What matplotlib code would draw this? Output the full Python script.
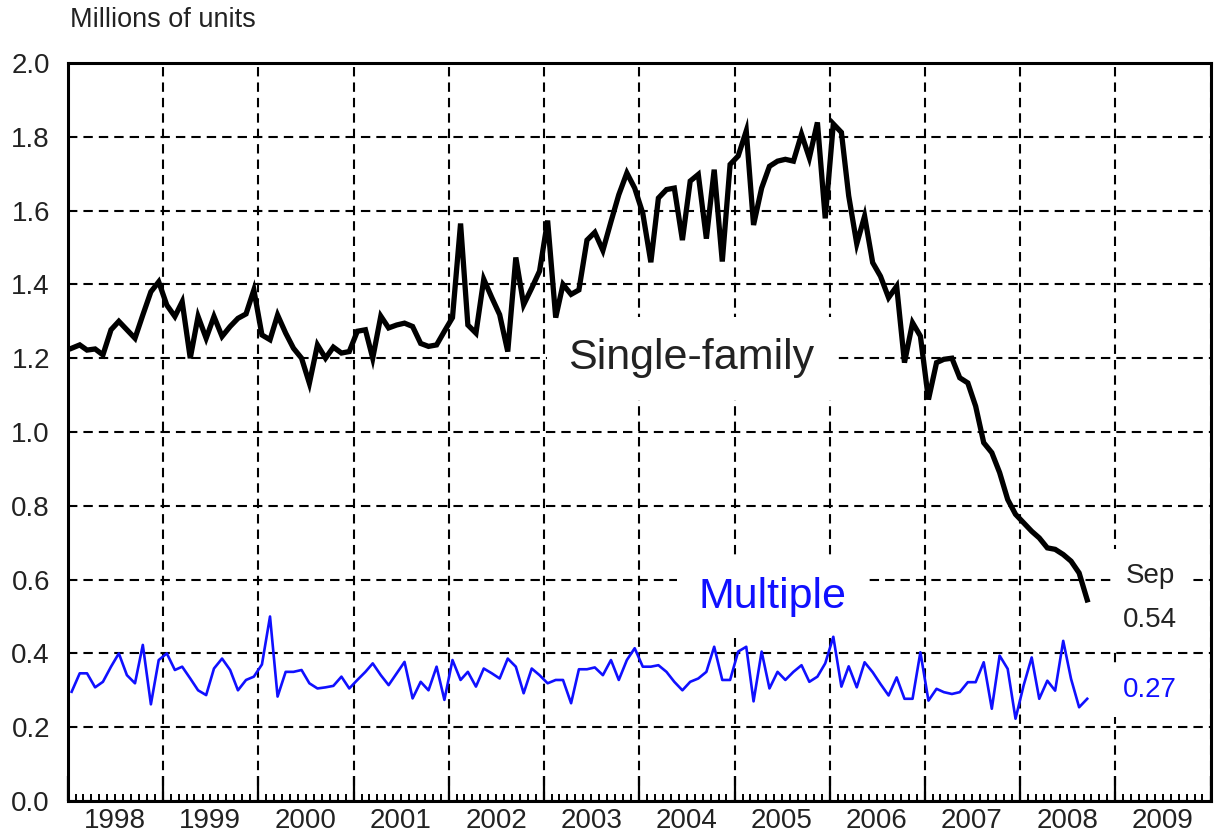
import matplotlib
matplotlib.use("Agg")
import matplotlib.pyplot as plt
import matplotlib.dates as mdates
import matplotlib.ticker as mticker
import pandas as pd

# --- data: monthly starts, Jan 1998 - Sep 2008, millions of units (SAAR) ---
single_family = [
    1.227, 1.236, 1.222, 1.225, 1.209, 1.277, 1.300, 1.277, 1.254, 1.317, 1.380, 1.407,
    1.344, 1.313, 1.353, 1.200, 1.313, 1.254, 1.313, 1.259, 1.286, 1.308, 1.320, 1.385,
    1.263, 1.250, 1.317, 1.268, 1.227, 1.200, 1.132, 1.236, 1.200, 1.230, 1.214, 1.218,
    1.273, 1.277, 1.200, 1.314, 1.282, 1.290, 1.295, 1.286, 1.240, 1.232, 1.236, 1.273,
    1.310, 1.565, 1.290, 1.268, 1.414, 1.364, 1.318, 1.218, 1.473, 1.345, 1.390, 1.436,
    1.573, 1.310, 1.400, 1.373, 1.385, 1.520, 1.541, 1.492, 1.570, 1.643, 1.702, 1.661,
    1.593, 1.460, 1.634, 1.657, 1.661, 1.520, 1.680, 1.698, 1.524, 1.711, 1.462, 1.725,
    1.748, 1.816, 1.561, 1.661, 1.720, 1.734, 1.739, 1.734, 1.807, 1.743, 1.839, 1.579,
    1.835, 1.812, 1.640, 1.510, 1.585, 1.459, 1.422, 1.364, 1.395, 1.188, 1.296, 1.260,
    1.088, 1.188, 1.197, 1.200, 1.147, 1.133, 1.070, 0.971, 0.944, 0.890, 0.817, 0.777,
    0.754, 0.731, 0.713, 0.686, 0.682, 0.668, 0.650, 0.618, 0.545,
]
multiple = [
    0.296, 0.346, 0.346, 0.308, 0.323, 0.364, 0.400, 0.341, 0.319, 0.423, 0.262, 0.382,
    0.400, 0.355, 0.364, 0.332, 0.300, 0.287, 0.359, 0.386, 0.355, 0.300, 0.328, 0.337,
    0.370, 0.500, 0.283, 0.350, 0.350, 0.355, 0.319, 0.305, 0.308, 0.312, 0.337, 0.305,
    0.328, 0.350, 0.373, 0.341, 0.314, 0.346, 0.377, 0.278, 0.323, 0.300, 0.364, 0.274,
    0.382, 0.328, 0.350, 0.310, 0.359, 0.346, 0.332, 0.386, 0.364, 0.292, 0.359, 0.341,
    0.319, 0.328, 0.328, 0.265, 0.357, 0.357, 0.362, 0.341, 0.382, 0.328, 0.382, 0.414,
    0.364, 0.364, 0.368, 0.350, 0.323, 0.300, 0.323, 0.332, 0.350, 0.418, 0.328, 0.328,
    0.405, 0.418, 0.270, 0.405, 0.305, 0.350, 0.328, 0.350, 0.368, 0.323, 0.337, 0.373,
    0.445, 0.310, 0.365, 0.308, 0.376, 0.349, 0.317, 0.286, 0.335, 0.277, 0.277, 0.403,
    0.272, 0.304, 0.295, 0.290, 0.295, 0.322, 0.322, 0.376, 0.250, 0.394, 0.358, 0.223,
    0.313, 0.389, 0.277, 0.326, 0.299, 0.434, 0.331, 0.254, 0.277,
]
months = pd.date_range("1998-01-01", periods=len(single_family), freq="MS") + pd.Timedelta(days=14)
y_ticks = [0.0, 0.2, 0.4, 0.6, 0.8, 1.0, 1.2, 1.4, 1.6, 1.8, 2.0]

plt.rcParams["font.family"] = ["Liberation Sans", "DejaVu Sans"]
TXT = "#222222"
BLUE = "#1010ff"
box = dict(boxstyle="square,pad=0.5", fc="white", ec="none")

fig = plt.figure(figsize=(12.14, 8.35), dpi=100)
ax = fig.add_axes([68 / 1214, 1 - 801 / 835, (1210.5 - 68) / 1214, (801 - 63) / 835])
ax.set_axisbelow(True)

ax.plot(months, single_family, color="black", lw=3.8, solid_joinstyle="miter", zorder=3)
ax.plot(months, multiple, color=BLUE, lw=1.9, zorder=3)

ax.set_xlim(pd.Timestamp("1998-01-01"), pd.Timestamp("2010-01-01"))
ax.set_ylim(0, 2.0)
ax.set_yticks(y_ticks)
ax.yaxis.set_major_formatter(mticker.FormatStrFormatter("%.1f"))

# year boundaries = major ticks / gridlines, months = minor ticks, labels mid-year
ax.xaxis.set_major_locator(mdates.YearLocator())
ax.xaxis.set_major_formatter(mticker.NullFormatter())
ax.xaxis.set_minor_locator(mdates.MonthLocator(bymonth=range(2, 13)))
ax.xaxis.set_minor_formatter(mticker.FuncFormatter(
    lambda v, pos: str(mdates.num2date(v).year) if mdates.num2date(v).month == 7 else ""))

ax.tick_params(axis="x", which="major", direction="in", length=18, width=1.6, labelbottom=False)
ax.tick_params(axis="x", which="minor", direction="in", length=5, width=1.4,
               labelsize=20, labelcolor=TXT, pad=5)
ax.tick_params(axis="y", length=0, labelsize=20, labelcolor=TXT, pad=13)

ax.grid(True, which="major", color="black", lw=1.5, linestyle=(0, (4.5, 2.9)))
for s in ax.spines.values():
    s.set_linewidth(2.2)
    s.set_color("black")
    s.set_zorder(4)

ax.text(pd.Timestamp("2004-07-20"), 1.20, "Single-family", fontsize=31, color=TXT,
        ha="center", va="center", bbox=box, zorder=2)
ax.text(pd.Timestamp("2005-05-25"), 0.553, "Multiple", fontsize=31, color=BLUE,
        ha="center", va="center", bbox=box, zorder=2)
ax.text(pd.Timestamp("2009-05-15"), 0.61, "Sep", fontsize=20, color=TXT,
        ha="center", va="center", bbox=box, zorder=2)
ax.text(pd.Timestamp("2009-05-15"), 0.49, "0.54", fontsize=20, color=TXT,
        ha="center", va="center", bbox=box, zorder=2)
ax.text(pd.Timestamp("2009-05-15"), 0.30, "0.27", fontsize=20, color=BLUE,
        ha="center", va="center", bbox=box, zorder=2)

fig.text(70 / 1214, 1 - 20 / 835, "Millions of units", fontsize=19.5, color=TXT,
         ha="left", va="center")

fig.savefig("out.png", dpi=100)
